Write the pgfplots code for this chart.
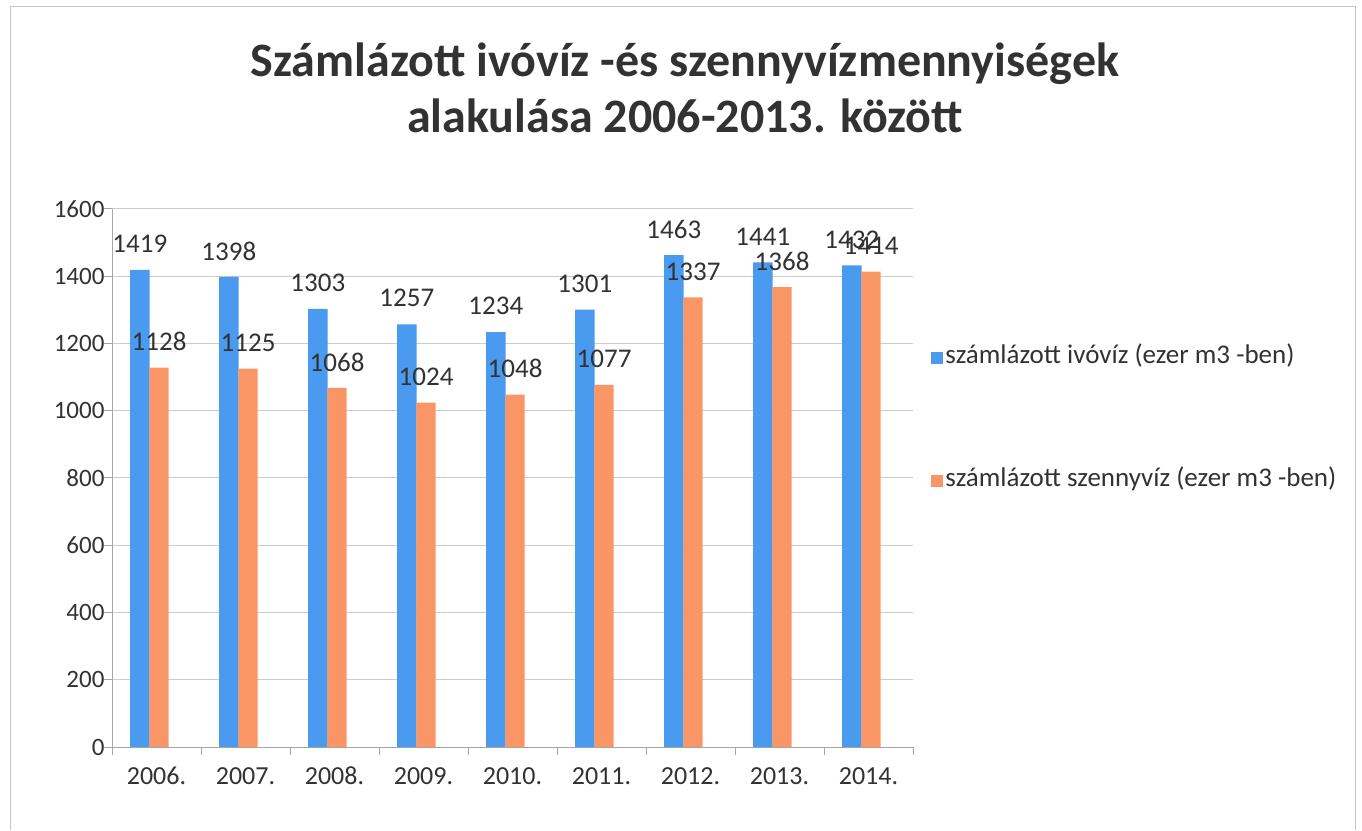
\documentclass[border=0pt]{standalone}
\usepackage{pgfplots}
\pgfplotsset{compat=1.18}
\usepackage{fontspec}
\setmainfont{Carlito}
\definecolor{cblue}{RGB}{74,155,240}
\definecolor{corange}{RGB}{250,150,102}
\definecolor{txt}{RGB}{50,50,50}
\pgfplotsset{sq legend/.style={legend image code/.code={\fill[##1] (0pt,-6pt) rectangle (12pt,6pt);}}}
\begin{document}
\begin{tikzpicture}[x=1pt,y=1pt]
\path[use as bounding box] (0,0) rectangle (1362,830);
\draw[gray!45, line width=1pt] (10,0) -- (10,823) -- (1355,823) -- (1355,0);
\node[font=\fontsize{48}{56}\selectfont\bfseries, text=txt, anchor=base] at (685,753) {Számlázott ivóvíz -és szennyvízmennyiségek};
\node[font=\fontsize{48}{56}\selectfont\bfseries, text=txt, anchor=base] at (685,697) {alakulása 2006-2013. között};
\begin{axis}[
  at={(112pt,83pt)}, anchor=south west,
  scale only axis, width=801pt, height=538pt,
  xmin=-0.5, xmax=8.5, ymin=0, ymax=1600,
  ybar, bar width=0.217,
  xtick={-0.5,0.5,...,8.5},
  xticklabels={2006.,2007.,2008.,2009.,2010.,2011.,2012.,2013.,2014.},
  x tick label as interval,
  ytick={0,200,...,1600},
  axis x line*=bottom, axis y line*=left,
  axis line style={gray!70, line width=1pt},
  tick style={gray!70, line width=1pt},
  tick align=outside, major tick length=8pt,
  ymajorgrids, grid style={gray!40, line width=1pt},
  tick label style={font=\fontsize{25}{30}\selectfont, text=txt},
  xticklabel style={yshift=-8pt, font=\fontsize{26}{30}\selectfont, text height=18pt, text depth=5pt},
  yticklabel style={xshift=4pt},
  /pgf/number format/assume math mode=true,
  /pgf/number format/1000 sep={},
  nodes near coords,
  every node near coord/.append style={anchor=center, yshift=26pt, font=\fontsize{27}{30}\selectfont, text=txt},
  legend style={at={(1.019,0.609)}, anchor=west, draw=none, fill=none,
    font=\fontsize{27}{30}\selectfont, text=txt, row sep=95pt,
    nodes={text height=18pt, text depth=6pt, inner sep=2pt}},
  legend cell align=left,
]
\addplot[sq legend, fill=cblue, draw=none, bar shift=-0.187] coordinates {
(0,1419) (1,1398) (2,1303) (3,1257) (4,1234) (5,1301) (6,1463) (7,1441) (8,1432)};
\addplot[sq legend, fill=corange, draw=none, bar shift=0.029] coordinates {
(0,1128) (1,1125) (2,1068) (3,1024) (4,1048) (5,1077) (6,1337) (7,1368) (8,1414)};
\legend{számlázott ivóvíz (ezer m3 -ben), számlázott szennyvíz (ezer m3 -ben)}
\end{axis}
\end{tikzpicture}
\end{document}
